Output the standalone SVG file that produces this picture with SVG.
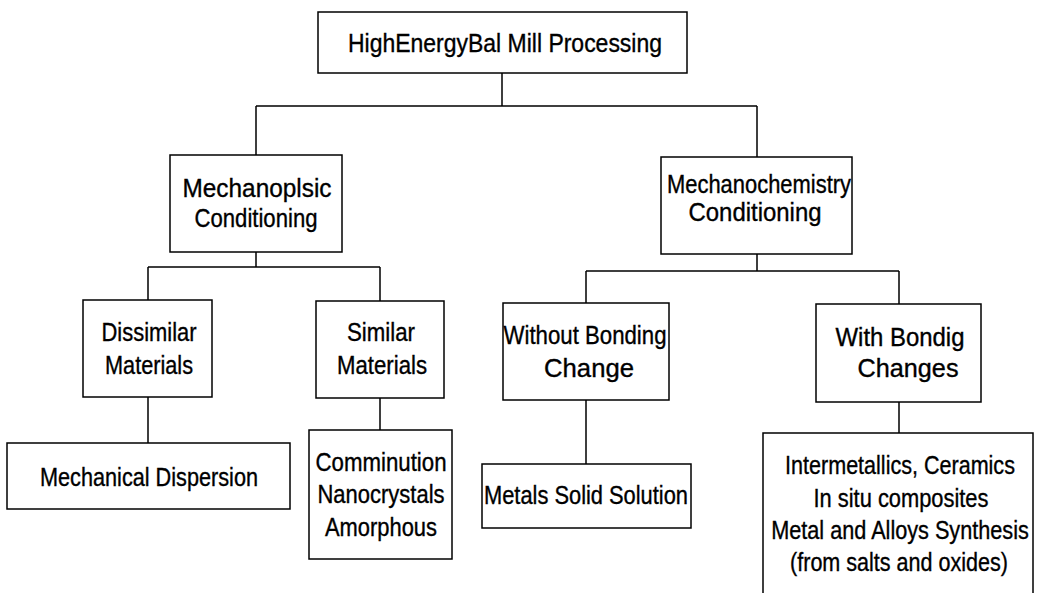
<svg xmlns="http://www.w3.org/2000/svg" width="1039" height="593" viewBox="0 0 1039 593">
<style>
rect{fill:#fff;stroke:#000;stroke-width:1.5}
text{font-family:"Liberation Sans",Arial,sans-serif;font-size:25px;fill:#000;stroke:#000;stroke-width:0.35;text-anchor:middle;dominant-baseline:central}
#connectors path{fill:none;stroke:#000;stroke-width:1.5}
</style>
<rect x="0" y="0" width="1039" height="593" style="stroke:none"/>
<g id="connectors">
<path d="M502 73V106M256 106H757M256 106V155M757 106V157"/>
<path d="M256 252V267M148 267H380M148 267V300M380 267V301"/>
<path d="M757 254V271M586 271H899M586 271V303M899 271V304"/>
<path d="M148 397V443M380 398V430M586 400V464M899 402V433"/>
</g>
<g id="top"><rect x="318" y="12" width="369" height="61"/><text x="505" y="43" textLength="314" lengthAdjust="spacingAndGlyphs">HighEnergyBal Mill Processing</text></g>
<g id="mechanophysic"><rect x="170" y="155" width="172" height="97"/><text x="257" y="188" textLength="149" lengthAdjust="spacingAndGlyphs">Mechanoplsic</text><text x="256" y="218" textLength="123" lengthAdjust="spacingAndGlyphs">Conditioning</text></g>
<g id="mechanochem"><rect x="661" y="157" width="191" height="97"/><text x="759" y="184" textLength="184" lengthAdjust="spacingAndGlyphs">Mechanochemistry</text><text x="755" y="212" textLength="133" lengthAdjust="spacingAndGlyphs">Conditioning</text></g>
<g id="dissimilar"><rect x="83" y="300" width="129" height="97"/><text x="149" y="332" textLength="95" lengthAdjust="spacingAndGlyphs">Dissimilar</text><text x="149" y="365" textLength="88" lengthAdjust="spacingAndGlyphs">Materials</text></g>
<g id="similar"><rect x="316" y="301" width="128" height="97"/><text x="381" y="332" textLength="68" lengthAdjust="spacingAndGlyphs">Similar</text><text x="382" y="365" textLength="90" lengthAdjust="spacingAndGlyphs">Materials</text></g>
<g id="without"><rect x="503" y="303" width="166" height="97"/><text x="585" y="335" textLength="163" lengthAdjust="spacingAndGlyphs">Without Bonding</text><text x="589" y="368" textLength="90" lengthAdjust="spacingAndGlyphs">Change</text></g>
<g id="with"><rect x="816" y="304" width="165" height="98"/><text x="900" y="337" textLength="129" lengthAdjust="spacingAndGlyphs">With Bondig</text><text x="908" y="368" textLength="101" lengthAdjust="spacingAndGlyphs">Changes</text></g>
<g id="dispersion"><rect x="7" y="443" width="283" height="66"/><text x="149" y="477" textLength="218" lengthAdjust="spacingAndGlyphs">Mechanical Dispersion</text></g>
<g id="comminution"><rect x="309" y="430" width="143" height="129"/><text x="381" y="462" textLength="131" lengthAdjust="spacingAndGlyphs">Comminution</text><text x="381" y="494" textLength="127" lengthAdjust="spacingAndGlyphs">Nanocrystals</text><text x="381" y="527" textLength="112" lengthAdjust="spacingAndGlyphs">Amorphous</text></g>
<g id="solid"><rect x="482" y="464" width="209" height="64"/><text x="586" y="495" textLength="204" lengthAdjust="spacingAndGlyphs">Metals Solid Solution</text></g>
<g id="synthesis"><rect x="763" y="433" width="270" height="170"/><text transform="translate(900 465) scale(0.862 1)">Intermetallics, Ceramics</text><text transform="translate(901 498) scale(0.875 1)">In situ composites</text><text transform="translate(900 530) scale(0.867 1)">Metal and Alloys Synthesis</text><text transform="translate(899 562) scale(0.862 1)">(from salts and oxides)</text></g>
</svg>
